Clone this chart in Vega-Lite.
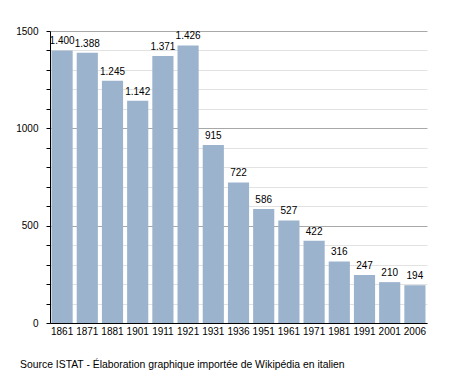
{
  "$schema": "https://vega.github.io/schema/vega-lite/v6.json",
  "autosize": "none",
  "width": 377,
  "height": 292,
  "padding": {"left": 50, "top": 31, "right": 28, "bottom": 50},
  "background": "white",
  "config": {
    "font": "Liberation Sans",
    "view": {"stroke": null},
    "locale": {"number": {"decimal": ",", "thousands": ".", "grouping": [3], "currency": ["", " €"]}}
  },
  "title": {
    "text": "Source ISTAT - Élaboration graphique importée de Wikipédia en italien",
    "orient": "bottom",
    "anchor": "start",
    "frame": "group",
    "dx": -30,
    "offset": 24,
    "fontSize": 10.4,
    "fontWeight": "normal",
    "color": "#000"
  },
  "data": {
    "values": [
      {"year": "1861", "pop": 1400},
      {"year": "1871", "pop": 1388},
      {"year": "1881", "pop": 1245},
      {"year": "1901", "pop": 1142},
      {"year": "1911", "pop": 1371},
      {"year": "1921", "pop": 1426},
      {"year": "1931", "pop": 915},
      {"year": "1936", "pop": 722},
      {"year": "1951", "pop": 586},
      {"year": "1961", "pop": 527},
      {"year": "1971", "pop": 422},
      {"year": "1981", "pop": 316},
      {"year": "1991", "pop": 247},
      {"year": "2001", "pop": 210},
      {"year": "2006", "pop": 194}
    ]
  },
  "encoding": {
    "x": {
      "field": "year", "type": "ordinal", "sort": null,
      "scale": {"paddingInner": 0.16, "paddingOuter": 0.06},
      "axis": {
        "title": null, "labelAngle": 0, "ticks": false, "labelPadding": 3,
        "labelFontSize": 10, "labelColor": "#000", "domainColor": "#000", "grid": false
      }
    },
    "y": {
      "field": "pop", "type": "quantitative",
      "scale": {"domain": [0, 1500], "nice": false},
      "axis": {
        "title": null,
        "values": [0,100,200,300,400,500,600,700,800,900,1000,1100,1200,1300,1400,1500],
        "labelExpr": "datum.value % 500 === 0 ? datum.value : ''",
        "format": "d",
        "grid": true,
        "gridColor": {"condition": {"test": "datum.value % 500 === 0", "value": "#a8a8a8"}, "value": "#e2e2e2"},
        "tickSize": 4, "tickColor": "#000", "labelPadding": 8,
        "labelFontSize": 10, "labelColor": "#000", "domainColor": "#000"
      }
    }
  },
  "layer": [
    {"mark": {"type": "bar", "color": "#9cb3cd"}},
    {
      "mark": {"type": "text", "baseline": "bottom", "dy": -4, "fontSize": 10, "color": "#000"},
      "encoding": {"text": {"field": "pop", "type": "quantitative", "format": ","}}
    }
  ]
}
